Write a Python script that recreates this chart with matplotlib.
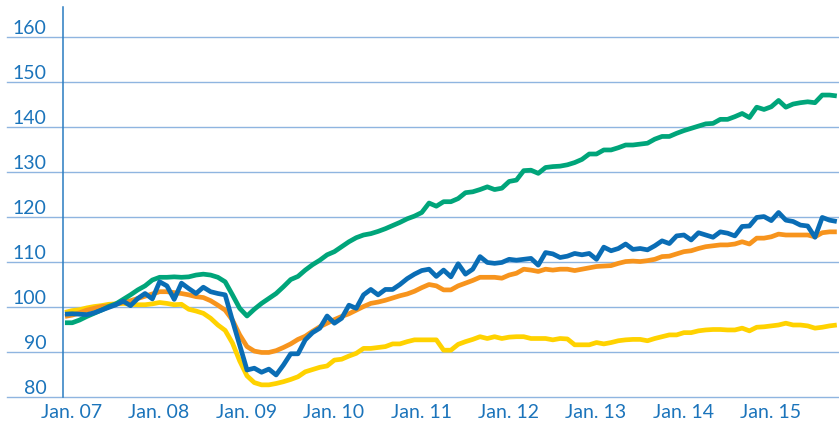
import matplotlib
matplotlib.use('Agg')
import matplotlib.pyplot as plt

# monthly index values, Jan. 07 onwards
blue = [98.4, 98.5, 98.4, 98.3, 98.7, 99.3, 99.9, 100.5, 101.3, 100.3,
        101.9, 103.0, 101.8, 105.6, 104.7, 101.7, 105.3, 104.1, 103.0, 104.4,
        103.4, 103.0, 102.7, 97.0, 91.5, 86.0, 86.4, 85.5, 86.2, 84.9,
        87.1, 89.6, 89.6, 92.7, 94.3, 95.3, 98.0, 96.4, 97.5, 100.4,
        99.7, 102.7, 103.9, 102.7, 103.9, 103.9, 105.0, 106.3, 107.3, 108.1,
        108.4, 106.8, 108.2, 106.7, 109.6, 107.3, 108.4, 111.2, 109.9, 109.7,
        109.9, 110.6, 110.4, 110.6, 110.8, 109.3, 112.1, 111.8, 111.0, 111.3,
        111.9, 111.6, 111.9, 110.6, 113.3, 112.5, 113.0, 114.0, 112.8, 113.0,
        112.7, 113.6, 114.7, 114.1, 115.8, 116.0, 114.9, 116.5, 116.0, 115.5,
        116.7, 116.4, 115.8, 117.9, 118.0, 119.9, 120.1, 119.2, 121.0, 119.3,
        119.0, 118.2, 118.0, 115.5, 119.9, 119.3, 119.0]

orange = [97.9, 98.2, 98.7, 99.3, 99.7, 100.1, 100.2, 100.7, 101.0, 101.4,
          101.9, 102.4, 102.9, 103.4, 103.4, 103.2, 103.0, 102.7, 102.3, 102.1,
          101.4, 100.4, 99.3, 97.1, 93.8, 91.2, 90.2, 89.9, 89.9, 90.3,
          91.0, 91.8, 92.8, 93.5, 94.6, 95.6, 96.4, 97.2, 97.9, 98.5,
          99.3, 100.1, 100.8, 101.1, 101.5, 102.0, 102.5, 102.9, 103.5, 104.3,
          105.0, 104.7, 103.8, 103.8, 104.7, 105.3, 105.9, 106.6, 106.6, 106.6,
          106.4, 107.1, 107.5, 108.4, 108.2, 107.9, 108.4, 108.2, 108.4, 108.4,
          108.1, 108.4, 108.7, 109.0, 109.1, 109.2, 109.7, 110.1, 110.2, 110.1,
          110.3, 110.6, 111.2, 111.3, 111.8, 112.3, 112.5, 113.0, 113.4, 113.6,
          113.8, 113.8, 114.0, 114.5, 114.0, 115.3, 115.3, 115.6, 116.2, 116.0,
          116.0, 116.0, 116.0, 115.6, 116.5, 116.7, 116.7]

green = [96.5, 96.5, 97.1, 97.9, 98.6, 99.3, 100.1, 100.7, 101.7, 102.7,
         103.8, 104.7, 106.0, 106.6, 106.6, 106.7, 106.6, 106.7, 107.1, 107.3,
         107.1, 106.6, 105.6, 102.7, 99.7, 98.0, 99.5, 100.8, 101.9, 103.0,
         104.5, 106.1, 106.8, 108.2, 109.4, 110.4, 111.6, 112.3, 113.4, 114.5,
         115.4, 116.0, 116.3, 116.8, 117.4, 118.1, 118.8, 119.6, 120.2, 121.0,
         123.1, 122.4, 123.4, 123.4, 124.1, 125.4, 125.6, 126.1, 126.7, 126.1,
         126.4, 127.9, 128.2, 130.3, 130.4, 129.7, 131.0, 131.2, 131.3, 131.6,
         132.1, 132.8, 134.0, 134.0, 134.9, 134.9, 135.4, 136.0, 136.0, 136.2,
         136.4, 137.3, 137.9, 137.9, 138.6, 139.2, 139.7, 140.2, 140.7, 140.8,
         141.7, 141.7, 142.3, 143.0, 142.1, 144.4, 143.9, 144.5, 145.9, 144.4,
         145.1, 145.4, 145.6, 145.4, 147.1, 147.1, 146.9]

yellow = [98.8, 99.2, 99.4, 99.8, 100.1, 100.3, 100.6, 100.7, 100.8, 100.6,
          100.5, 100.5, 100.7, 101.0, 100.8, 100.5, 100.6, 99.5, 99.1, 98.6,
          97.5, 96.0, 94.8, 92.0, 88.0, 84.7, 83.2, 82.7, 82.7, 83.0,
          83.4, 83.9, 84.5, 85.6, 86.1, 86.6, 86.9, 88.2, 88.4, 89.1,
          89.7, 90.8, 90.8, 91.0, 91.2, 91.8, 91.8, 92.3, 92.7, 92.7,
          92.7, 92.7, 90.4, 90.4, 91.7, 92.3, 92.8, 93.4, 93.0, 93.4,
          93.0, 93.3, 93.4, 93.4, 93.0, 93.0, 93.0, 92.7, 93.0, 92.9,
          91.6, 91.6, 91.6, 92.1, 91.8, 92.1, 92.5, 92.7, 92.8, 92.8,
          92.5, 93.0, 93.4, 93.8, 93.8, 94.3, 94.3, 94.7, 94.9, 95.0,
          95.0, 94.9, 94.9, 95.3, 94.7, 95.5, 95.6, 95.8, 96.0, 96.4,
          96.0, 96.0, 95.8, 95.3, 95.5, 95.8, 96.0]

year_labels = ['Jan. 07', 'Jan. 08', 'Jan. 09', 'Jan. 10', 'Jan. 11',
               'Jan. 12', 'Jan. 13', 'Jan. 14', 'Jan. 15']
y_ticks = [80, 90, 100, 110, 120, 130, 140, 150, 160]

text_col = '#1b74bb'
grid_col = '#8fb5e0'

plt.rcParams['font.family'] = ['Lato', 'DejaVu Sans']

fig = plt.figure(figsize=(8.39, 4.22), dpi=100)
ax = fig.add_axes([63 / 839, 25 / 422, 1 - 63 / 839, 390 / 422])

months = range(len(blue))
ax.plot(months, yellow, color='#ffd200', lw=3.4, solid_capstyle='butt', zorder=3)
ax.plot(months, orange, color='#f7941d', lw=3.4, solid_capstyle='butt', zorder=4)
ax.plot(months, green, color='#00a57a', lw=3.4, solid_capstyle='butt', zorder=5)
ax.plot(months, blue, color='#0a6db5', lw=3.4, solid_capstyle='butt', zorder=6)

ax.set_xlim(-0.27, 106.3)
ax.set_ylim(80, 80 + 390 / 4.5)

# gridlines run out to the left, under the labels
for v in y_ticks:
    ax.axhline(v, xmin=-56 / 776, xmax=1, color=grid_col, lw=1.0,
               clip_on=False, zorder=1)

ax.set_yticks(y_ticks)
ax.set_yticklabels([str(v) for v in y_ticks])
for lbl in ax.get_yticklabels():
    lbl.set_verticalalignment('bottom')
ax.tick_params(axis='y', length=0, pad=12, labelsize=14, labelcolor=text_col)

ax.set_xticks([i * 12 + 0.9 for i in range(len(year_labels))])
ax.set_xticklabels(year_labels)
ax.tick_params(axis='x', length=0, pad=5, labelsize=14, labelcolor=text_col)

for s in ('top', 'right', 'bottom'):
    ax.spines[s].set_visible(False)
ax.spines['left'].set_color('#2a7cc1')
ax.spines['left'].set_linewidth(1.1)

fig.savefig('out.png', dpi=100)
